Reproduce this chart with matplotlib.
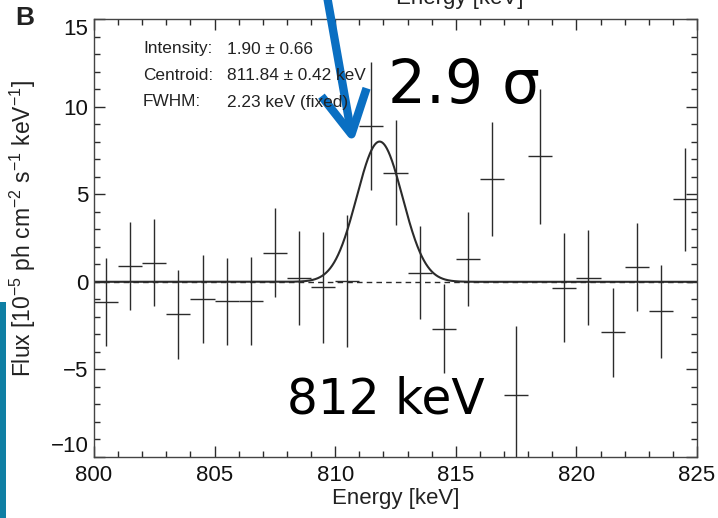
import numpy as np
import matplotlib
matplotlib.use("Agg")
import matplotlib.pyplot as plt
from matplotlib.patches import Rectangle, FancyArrowPatch
from matplotlib.ticker import MultipleLocator

plt.rcParams['font.family'] = ['Liberation Sans', 'DejaVu Sans']
plt.rcParams['mathtext.fontset'] = 'custom'
plt.rcParams['mathtext.rm'] = 'Liberation Sans'

# Binned spectrum (1 keV bins), flux in 1e-5 ph cm^-2 s^-1 keV^-1
energy = [800.5, 801.5, 802.5, 803.5, 804.5, 805.5, 806.5, 807.5, 808.5, 809.5,
          810.5, 811.5, 812.5, 813.5, 814.5, 815.5, 816.5, 817.5, 818.5, 819.5,
          820.5, 821.5, 822.5, 823.5, 824.5]
flux = [-1.15, 0.89, 1.10, -1.86, -0.98, -1.10, -1.10, 1.67, 0.23, -0.32,
        0.04, 8.88, 6.23, 0.53, -2.67, 1.29, 5.87, -6.44, 7.16, -0.34,
        0.23, -2.88, 0.85, -1.69, 4.70]
flux_err = [2.50, 2.50, 2.48, 2.52, 2.50, 2.48, 2.50, 2.53, 2.67, 3.16,
            3.75, 3.66, 3.00, 2.67, 2.54, 2.67, 3.24, 3.90, 3.85, 3.12,
            2.71, 2.54, 2.53, 2.67, 2.95]
bin_half_width = 0.5

x_ticks = [800, 805, 810, 815, 820, 825]
y_ticks = [-10, -5, 0, 5, 10, 15]
y_tick_labels = ['\u221210', '\u22125', '0', '5', '10', '15']

# Line fit parameters
intensity = 1.90        # 1e-4 ph cm^-2 s^-1
intensity_err = 0.66
centroid = 811.84       # keV
centroid_err = 0.42
fwhm = 2.23             # keV (fixed)

W, H = 718, 518
fig = plt.figure(figsize=(W / 100, H / 100), dpi=100)
ax = fig.add_axes([94 / W, 1 - 457 / H, (697 - 94) / W, (457 - 19) / H])

ink = '#2b2b2b'
ax.errorbar(energy, flux, yerr=flux_err, xerr=bin_half_width, fmt='none',
            ecolor=ink, elinewidth=1.0, capsize=0)

sigma = fwhm / (2 * np.sqrt(2 * np.log(2)))
xs = np.linspace(800, 825, 1500)
model = intensity * 10 / (sigma * np.sqrt(2 * np.pi)) * np.exp(-(xs - centroid) ** 2 / (2 * sigma ** 2))
ax.axhline(0, color=ink, lw=1.0, ls=(0, (4, 3)))
ax.plot(xs, model, color=ink, lw=1.5)

ax.set_xlim(800, 825)
ax.set_ylim(-10, 15)
ax.set_xticks(x_ticks)
ax.set_yticks(y_ticks)
ax.set_yticklabels(y_tick_labels)
ax.xaxis.set_minor_locator(MultipleLocator(1))
ax.yaxis.set_minor_locator(MultipleLocator(1))
ax.tick_params(which='both', direction='in', top=True, right=True, colors=ink,
               labelsize=16, labelcolor='#111111')
ax.tick_params(which='major', length=8, width=1)
ax.tick_params(which='minor', length=4, width=1)
ax.tick_params(axis='x', pad=6)
ax.tick_params(axis='y', pad=4)
yt = ax.yaxis.get_major_ticks()
yt[0].label1.set_va('bottom')
yt[-1].label1.set_va('top')
for s in ax.spines.values():
    s.set_color('#444444')
    s.set_linewidth(1.0)

ax.set_xlabel('Energy [keV]', fontsize=16, color='#222222')
ax.xaxis.set_label_coords(0.5, -(488 - 457) / 438)
ax.set_ylabel(r'Flux [10$^{-5}$ ph cm$^{-2}$ s$^{-1}$ keV$^{-1}$]', fontsize=16.5,
              color='#222222')
ax.yaxis.set_label_coords((38 - 94) / 603, (457 - 229) / 438)

# Fit summary
rows = [('Intensity:', f'{intensity:.2f} \u00b1 {intensity_err:.2f}'),
        ('Centroid:', f'{centroid:.2f} \u00b1 {centroid_err:.2f} keV'),
        ('FWHM:', f'{fwhm:.2f} keV (fixed)')]
for i, (k, v) in enumerate(rows):
    yy = 1 - (49 + 26.5 * i) / H
    fig.text(143 / W, yy, k, fontsize=12.4, color='#222222', va='center', ha='left')
    fig.text(227 / W, yy, v, fontsize=12.4, color='#222222', va='center', ha='left')

# Hand annotations
fig.text(388 / W, 1 - 87 / H, '2.9 \u03c3', fontsize=43, color='black',
         family=['DejaVu Sans'], va='center', ha='left')
fig.text(287 / W, 1 - 400 / H, '812 keV', fontsize=35, color='black',
         family=['DejaVu Sans'], va='center', ha='left')

arrow = FancyArrowPatch((327 / W, 1 + 4 / H), (353 / W, 1 - 143 / H),
                        transform=fig.transFigure, arrowstyle='->,head_length=1.4,head_width=0.75',
                        mutation_scale=22, color='#0a6fc2', lw=6, capstyle='butt',
                        shrinkA=0, shrinkB=0)
fig.add_artist(arrow)

# Panel letter and clipped heading from the panel above
fig.text(15 / W, 1 - 25 / H, 'B', fontsize=19, fontweight='bold', color='#222222',
         va='baseline', ha='left')
fig.text(460 / W, 1 - 4 / H, 'Energy [keV]', fontsize=16, color='#222222',
         va='baseline', ha='center')

# Edge of neighbouring slide element
fig.add_artist(Rectangle((0, 0), 6 / W, (H - 302) / H, transform=fig.transFigure,
                         color='#0f7fa4', lw=0))

fig.savefig('out.png', dpi=100)
